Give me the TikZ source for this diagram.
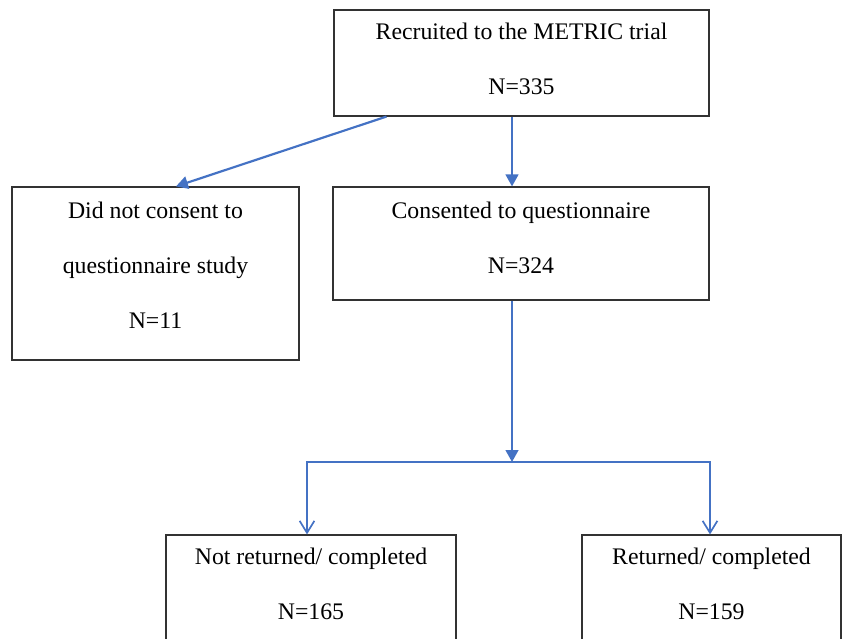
\documentclass[tikz,border=0pt]{standalone}
\usepackage{fontspec}
\setmainfont{Liberation Serif}
\usepackage{tikz}
\usetikzlibrary{arrows.meta, calc, positioning}
\definecolor{flowblue}{RGB}{68, 114, 196}
\definecolor{boxgray}{RGB}{50, 50, 50}
\tikzset{
  stagebox/.style={draw=boxgray, line width=0.8pt, fill=white, inner sep=0pt, align=center,
    font=\fontsize{16.9}{39.1}\selectfont},
  flow/.style={draw=flowblue, line width=1.55pt, -{Triangle[length=8.5pt, width=9pt]}},
  branch/.style={draw=flowblue, line width=1.55pt, -{Straight Barb[length=8.5pt, width=10.5pt, line width=1.2pt]}}
}

\begin{document}
\begin{tikzpicture}[x=0.025cm, y=-0.025cm]
  \useasboundingbox (0, 0) rectangle (846, 638);
  \clip (0, 0) rectangle (846, 638);

  % Boxes
  \node[stagebox, text depth=5.7pt, minimum width=9.375cm, minimum height=2.65cm] (recruit) at (521.5, 63) {Recruited to the METRIC trial\\N=335};
  \node[stagebox, text depth=11.4pt, minimum width=7.175cm, minimum height=4.325cm] (nocons) at (155.5, 273.5) {Did not consent to\\questionnaire study\\N=11};
  \node[stagebox, text depth=8.5pt, minimum width=9.4cm, minimum height=2.825cm] (consented) at (521, 243.5) {Consented to questionnaire\\N=324};
  \node[stagebox, text depth=6.5pt, minimum width=7.25cm, minimum height=2.65cm] (notret) at (311, 588) {Not returned/ completed\\N=165};
  \node[stagebox, text depth=6.5pt, minimum width=6.475cm, minimum height=2.65cm] (ret) at (711.5, 588) {Returned/ completed\\N=159};

  % Split point
  \coordinate (split) at (512, 462);

  % Arrows
  \draw[flow] ($(recruit.south west)!0.141!(recruit.south east)$) -- ($(nocons.north west)!0.571!(nocons.north east)$);
  \draw[flow] (recruit.south -| split) -- (consented.north -| split);
  \draw[flow] (consented.south -| split) -- (split);
  \draw[branch] (split) -| ($(notret.north)+(-4, 0)$);
  \draw[branch] (split) -| ($(ret.north)+(-1.5, 0)$);
\end{tikzpicture}
\end{document}
